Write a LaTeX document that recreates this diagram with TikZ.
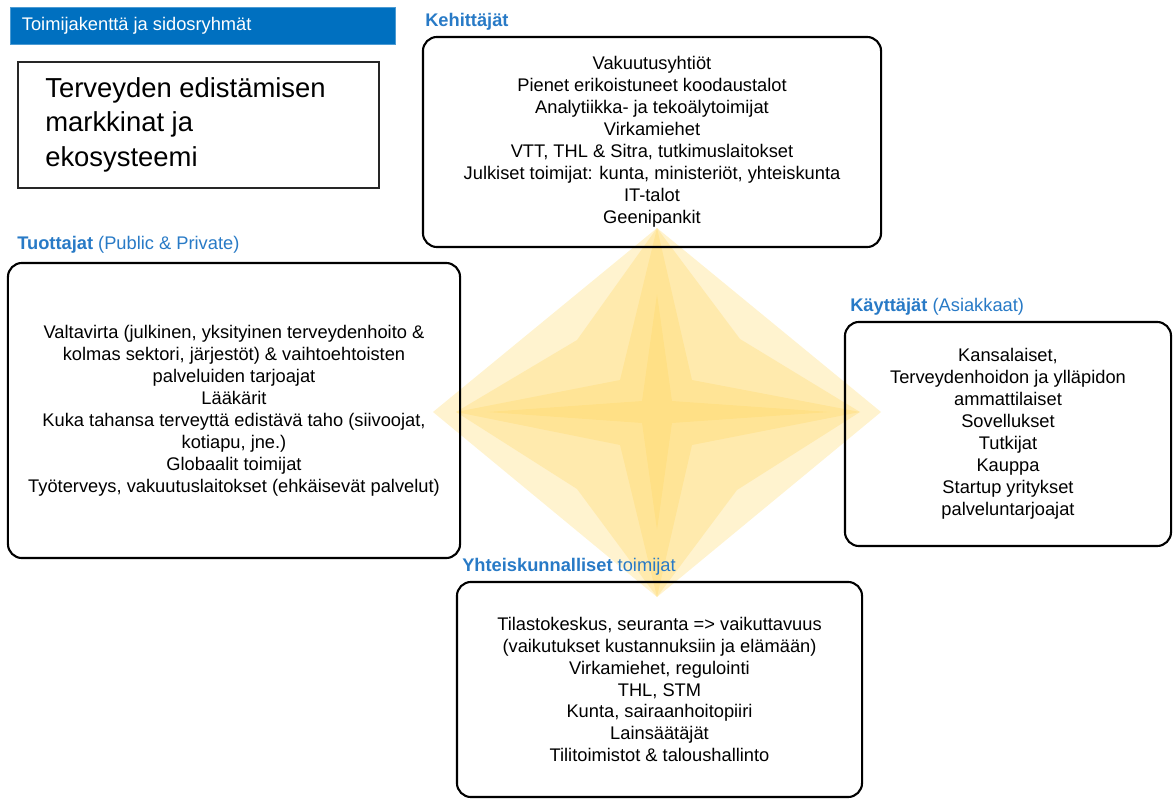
\documentclass[tikz,border=0pt]{standalone}
\usepackage{fontspec}
\setmainfont{Liberation Sans}
\usepackage{tikz}
\definecolor{barblue}{RGB}{0,112,192}
\definecolor{lblblue}{RGB}{40,122,198}
\definecolor{stargold}{RGB}{255,214,96}

\begin{document}
\begin{tikzpicture}[
	x=0.025cm, y=-0.025cm,
	group/.style={draw=black, line width=1.5pt, rounded corners=10pt, align=center, inner sep=0pt, font=\fontsize{13}{15.6}\selectfont},
	grouplabel/.style={text=lblblue, anchor=west, inner sep=0pt, font=\fontsize{13}{15.6}\selectfont},
	starlayer/.style={fill=stargold, fill opacity=0.3, draw=none},
	titlebar/.style={fill=barblue, draw=barblue!70, minimum width=9.625cm, minimum height=0.925cm, inner sep=0pt}
	]
	
	\useasboundingbox (0,0) rectangle (1174,801);
	
	%-----------------------
	% Star in the middle
	%-----------------------
	\def\cx{657}
	\def\cy{412}
	\begin{scope}[shift={(\cx,\cy)}]
		\fill[starlayer] (-224,0) -- (0,-184) -- (224,0) -- (0,185) -- cycle;
		\fill[starlayer] (-201,0) -- (-80,-72) -- (0,-184) -- (83,-73) -- (203,0) -- (80,78) -- (0,185) -- (-80,77) -- cycle;
		\fill[starlayer] (-201,0) -- (-37,-32) -- (0,-184) -- (35,-32) -- (203,0) -- (35,33) -- (0,185) -- (-37,33) -- cycle;
		\fill[starlayer] (-170,0) -- (-15,-11) -- (0,-118) -- (15,-11) -- (173,0) -- (15,11) -- (0,118) -- (-15,11) -- cycle;
	\end{scope}
	
	%-----------------------
	% Header and title
	%-----------------------
	\node[titlebar] (bar) at (202.5,25.5) {};
	\node[text=white, anchor=west, inner sep=0pt, font=\fontsize{13}{15.6}\selectfont] (bar-txt) at ([xshift=8.5pt]bar.west) {Toimijakenttä ja sidosryhmät};
	
	\node[draw=black!85, line width=0.8pt, minimum width=9.025cm, minimum height=3.15cm, inner sep=0pt] (title) at (198.5,125) {};
	\node[anchor=west, align=left, inner sep=0pt, font=\fontsize{19.5}{24.5}\selectfont] (title-txt) at (45,124.5) {Terveyden edistämisen\\markkinat ja\\ekosysteemi};
	
	%-----------------------
	% Stakeholder groups
	%-----------------------
	\node[group, minimum width=11.45cm, minimum height=5.25cm] (keh) at (652,142) {Vakuutusyhtiöt\\Pienet erikoistuneet koodaustalot\\Analytiikka- ja tekoälytoimijat\\Virkamiehet\\VTT, THL \& Sitra, tutkimuslaitokset\\Julkiset toimijat: kunta, ministeriöt, yhteiskunta\\IT-talot\\Geenipankit};
	
	\node[group, minimum width=11.3cm, minimum height=7.375cm] (tuo) at (234,410.5) {Valtavirta (julkinen, yksityinen terveydenhoito \&\\kolmas sektori, järjestöt) \& vaihtoehtoisten\\palveluiden tarjoajat\\Lääkärit\\Kuka tahansa terveyttä edistävä taho (siivoojat,\\kotiapu, jne.)\\Globaalit toimijat\\Työterveys, vakuutuslaitokset (ehkäisevät palvelut)};
	
	\node[group, minimum width=8.15cm, minimum height=5.6cm] (kay) at (1008,434) {Kansalaiset,\\Terveydenhoidon ja ylläpidon\\ammattilaiset\\Sovellukset\\Tutkijat\\Kauppa\\Startup yritykset\\palveluntarjoajat};
	
	\node[group, minimum width=10.125cm, minimum height=5.375cm] (yht) at (659.5,689.5) {Tilastokeskus, seuranta => vaikuttavuus\\(vaikutukset kustannuksiin ja elämään)\\Virkamiehet, regulointi\\THL, STM\\Kunta, sairaanhoitopiiri\\Lainsäätäjät\\Tilitoimistot \& taloushallinto};
	
	%-----------------------
	% Group labels
	%-----------------------
	\node[grouplabel] (keh-lbl) at (425,22) {\textbf{Kehittäjät}};
	\node[grouplabel] (tuo-lbl) at (17,245) {\textbf{Tuottajat} (Public \& Private)};
	\node[grouplabel] (kay-lbl) at (850,307) {\textbf{Käyttäjät} (Asiakkaat)};
	\node[grouplabel] (yht-lbl) at (462,567) {\textbf{Yhteiskunnalliset} toimijat};
	
\end{tikzpicture}
\end{document}
